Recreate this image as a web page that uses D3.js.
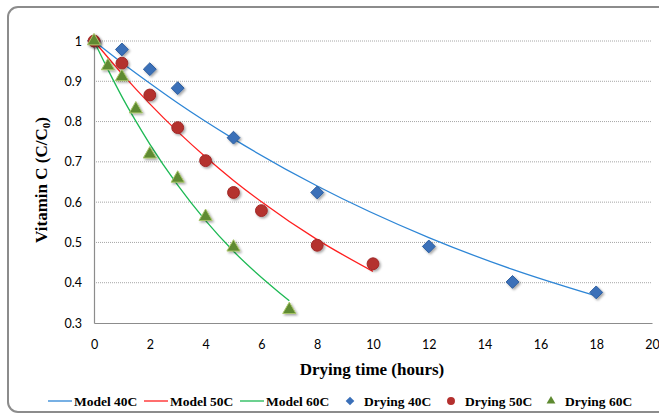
<!DOCTYPE html>
<html>
<head>
<meta charset="utf-8">
<script src="https://cdn.jsdelivr.net/npm/d3@7"></script>
<style>
  body { margin: 0; background: #fff; }
  svg { display: block; }
</style>
</head>
<body>
<div id="chart"></div>
<script>
// data
const xTicks = [0, 2, 4, 6, 8, 10, 12, 14, 16, 18, 20];
const yTicks = [0.3, 0.4, 0.5, 0.6, 0.7, 0.8, 0.9, 1];

const dry40t = [0, 1, 2, 3, 5, 8, 12, 15, 18];
const dry40v = [1, 0.979, 0.93, 0.883, 0.76, 0.624, 0.49, 0.402, 0.376];
const dry50t = [0, 1, 2, 3, 4, 5, 6, 8, 10];
const dry50v = [1, 0.945, 0.866, 0.785, 0.703, 0.624, 0.579, 0.493, 0.447];
const dry60t = [0, 0.5, 1, 1.5, 2, 3, 4, 5, 7];
const dry60v = [1, 0.938, 0.911, 0.831, 0.719, 0.659, 0.564, 0.488, 0.333];

const mod40t = [0, 1, 2, 3, 5, 8, 12, 15, 18];
const mod40v = [1, 0.946, 0.895, 0.846, 0.757, 0.64, 0.512, 0.433, 0.367];
const mod50t = [0, 1, 2, 3, 4, 5, 6, 8, 10];
const mod50v = [1, 0.919, 0.844, 0.775, 0.712, 0.654, 0.601, 0.507, 0.428];
const mod60t = [0, 0.5, 1, 1.5, 2, 3, 4, 5, 7];
const mod60v = [1, 0.929, 0.862, 0.801, 0.744, 0.642, 0.554, 0.478, 0.355];

const W = 659, H = 415;
const margin = { top: 41, right: 7, bottom: 92, left: 94 };
const width = 652 - margin.left;
const height = 323 - margin.top;

const svg = d3.select('#chart').append('svg')
  .attr('width', W)
  .attr('height', H);

// outer rounded frame
svg.append('rect')
  .attr('x', 8).attr('y', 7)
  .attr('width', 668).attr('height', 405)
  .attr('rx', 10)
  .attr('fill', '#fff')
  .attr('stroke', '#8c8c8c')
  .attr('stroke-width', 2);

const x = d3.scaleLinear().domain([0, 20]).range([0, width]);
const y = d3.scaleLinear().domain([0.3, 1]).range([height, 0]);

const g = svg.append('g')
  .attr('transform', 'translate(' + margin.left + ',' + margin.top + ')');

// gridlines
g.selectAll('.grid')
  .data(yTicks.filter(d => d > 0.3))
  .enter().append('line')
  .attr('x1', 0).attr('x2', width)
  .attr('y1', d => y(d)).attr('y2', d => y(d))
  .attr('stroke', '#a6a6a6')
  .attr('stroke-width', 1)
  .attr('stroke-dasharray', '1,1');

// axes
const yAxis = d3.axisLeft(y).tickValues(yTicks).tickSize(0).tickPadding(12)
  .tickFormat(d => d === 1 ? '1' : d3.format('.1f')(d));
const xAxis = d3.axisBottom(x).tickValues(xTicks).tickSize(0).tickPadding(17)
  .tickFormat(d3.format('d'));

const ya = g.append('g').call(yAxis);
const xa = g.append('g').attr('transform', 'translate(0,' + height + ')').call(xAxis);

[ya, xa].forEach(a => {
  a.select('.domain').attr('stroke', '#8c8c8c').attr('stroke-width', 1.2);
  a.selectAll('text')
    .attr('fill', '#000')
    .style('font-family', 'Lato, "Open Sans", sans-serif')
    .style('font-size', '12.5px');
});

// axis titles
svg.append('text')
  .attr('x', 372).attr('y', 375)
  .attr('text-anchor', 'middle')
  .style('font-family', '"Liberation Serif", "Times New Roman", serif')
  .style('font-weight', 'bold')
  .style('font-size', '17px')
  .text('Drying time (hours)');

const yt = svg.append('text')
  .attr('transform', 'translate(47,180) rotate(-90)')
  .attr('text-anchor', 'middle')
  .style('font-family', '"Liberation Serif", "Times New Roman", serif')
  .style('font-weight', 'bold')
  .style('font-size', '17px');
yt.append('tspan').text('Vitamin C (C/C');
yt.append('tspan').attr('dy', 3).style('font-size', '11px').text('0');
yt.append('tspan').attr('dy', -3).text(')');

// shadow filter for markers
const defs = svg.append('defs');
const f = defs.append('filter').attr('id', 'shadow')
  .attr('x', '-50%').attr('y', '-50%').attr('width', '200%').attr('height', '200%');
f.append('feDropShadow')
  .attr('dx', 1.5).attr('dy', 1.5).attr('stdDeviation', 1.2)
  .attr('flood-color', '#000').attr('flood-opacity', 0.35);

// model lines
const line = d3.line().x(d => x(d[0])).y(d => y(d[1])).curve(d3.curveMonotoneX);
const models = [
  { t: mod40t, v: mod40v, color: '#2e86d6', name: 'Model 40C' },
  { t: mod50t, v: mod50v, color: '#ff1f1f', name: 'Model 50C' },
  { t: mod60t, v: mod60v, color: '#1db954', name: 'Model 60C' }
];
models.forEach(m => {
  g.append('path')
    .datum(d3.zip(m.t, m.v))
    .attr('d', line)
    .attr('fill', 'none')
    .attr('stroke', m.color)
    .attr('stroke-width', 1.3);
});

// markers
const series = [
  { t: dry40t, v: dry40v, sym: d3.symbolDiamond2, size: 105, fill: '#3a6fb8', stroke: '#2f5f9f', name: 'Drying 40C' },
  { t: dry50t, v: dry50v, sym: d3.symbolCircle, size: 110, fill: '#b4302e', stroke: '#a02a28', name: 'Drying 50C' },
  { t: dry60t, v: dry60v, sym: d3.symbolTriangle, size: 75, fill: '#5e8a30', stroke: '#a8c46a', name: 'Drying 60C' }
];
series.forEach(s => {
  g.selectAll(null)
    .data(d3.zip(s.t, s.v))
    .enter().append('path')
    .attr('d', d3.symbol().type(s.sym).size(s.size))
    .attr('transform', d => 'translate(' + x(d[0]) + ',' + y(d[1]) + ')')
    .attr('fill', s.fill)
    .attr('stroke', s.stroke)
    .attr('stroke-width', 1)
    .attr('filter', 'url(#shadow)');
});

// legend
const legend = svg.append('g')
  .style('font-family', '"Liberation Serif", "Times New Roman", serif')
  .style('font-weight', 'bold')
  .style('font-size', '13.5px');

const lineX = [48, 144, 240];
models.forEach((m, i) => {
  legend.append('line')
    .attr('x1', lineX[i]).attr('x2', lineX[i] + 24)
    .attr('y1', 401).attr('y2', 401)
    .attr('stroke', m.color).attr('stroke-width', 1.3);
  legend.append('text')
    .attr('x', lineX[i] + 26).attr('y', 405.5)
    .text(m.name);
});
const symX = [350, 451, 551];
series.forEach((s, i) => {
  legend.append('path')
    .attr('d', d3.symbol().type(s.sym).size(s.size * 0.45))
    .attr('transform', 'translate(' + symX[i] + ',401)')
    .attr('fill', s.fill);
  legend.append('text')
    .attr('x', symX[i] + 14).attr('y', 405.5)
    .text(s.name);
});
</script>
</body>
</html>
